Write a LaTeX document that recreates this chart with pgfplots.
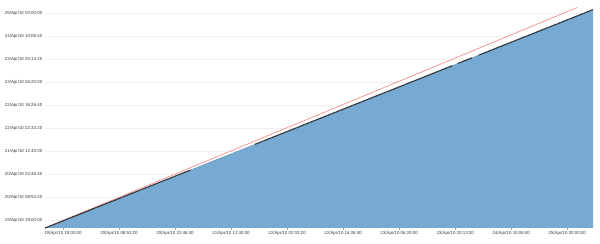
\documentclass[border=0pt]{standalone}
\usepackage{fontspec}
\setmainfont{Liberation Sans}
\usepackage{pgfplots}
\pgfplotsset{compat=1.18}
\definecolor{areablue}{RGB}{118,170,210}
\definecolor{redline}{RGB}{245,140,140}
\definecolor{lblgray}{RGB}{60,60,60}
\begin{document}
\begin{tikzpicture}
\begin{axis}[
  name=ax,
  scale only axis,
  width=548bp, height=224bp,
  xmin=-0.32, xmax=9.46,
  ymin=-0.35, ymax=9.4,
  axis line style={draw=none},
  xtick={0,1,2,3,4,5,6,7,8,9},
  ytick={0,1,2,3,4,5,6,7,8,9},
  xticklabels={19/Apr/10 19:00:00,20/Apr/10 08:53:20,20/Apr/10 22:46:40,21/Apr/10 12:40:00,22/Apr/10 02:33:20,22/Apr/10 16:26:40,23/Apr/10 06:20:00,23/Apr/10 20:13:20,24/Apr/10 10:06:40,25/Apr/10 00:00:00},
  yticklabels={19/Apr/10 19:00:00,20/Apr/10 08:53:20,20/Apr/10 22:46:40,21/Apr/10 12:40:00,22/Apr/10 02:33:20,22/Apr/10 16:26:40,23/Apr/10 06:20:00,23/Apr/10 20:13:20,24/Apr/10 10:06:40,25/Apr/10 00:00:00},
  xtick pos=bottom,
  tick align=outside,
  major tick length=2bp,
  x tick style={draw=gray!70, line width=0.4bp},
  y tick style={draw=none},
  ymajorgrids,
  grid style={draw=gray!12, line width=0.5bp},
  tick label style={font=\fontsize{4.4}{5}\selectfont, text=lblgray},
  x tick label style={inner sep=1bp},
  y tick label style={inner sep=0.6bp},
  unbounded coords=jump,
  clip=false,
]
\addplot[fill=areablue, draw=none] coordinates {(-0.32,-0.35) (9.46,9.156) (9.46,-0.35) (-0.32,-0.35)};
\addplot[areablue!85!black, line width=0.4bp] coordinates {(-0.32,-0.35) (9.46,9.156)};
\addplot[redline, line width=0.7bp] coordinates {(-0.32,-0.35) (9.18,9.25)};
\addplot[black!85, line width=1.2bp, dash pattern=on 0.9bp off 0.5bp] coordinates {
  (-0.32,-0.35) (2.27,2.167) (nan,nan)
  (3.43,3.295) (6.95,6.716) (nan,nan)
  (7.05,6.814) (7.30,7.057) (nan,nan)
  (7.42,7.173) (9.46,9.156)
};
\end{axis}
\pgfresetboundingbox
\useasboundingbox ([xshift=-45bp,yshift=-16bp]ax.south west) rectangle ([xshift=7bp,yshift=4bp]ax.north east);
\end{tikzpicture}
\end{document}
